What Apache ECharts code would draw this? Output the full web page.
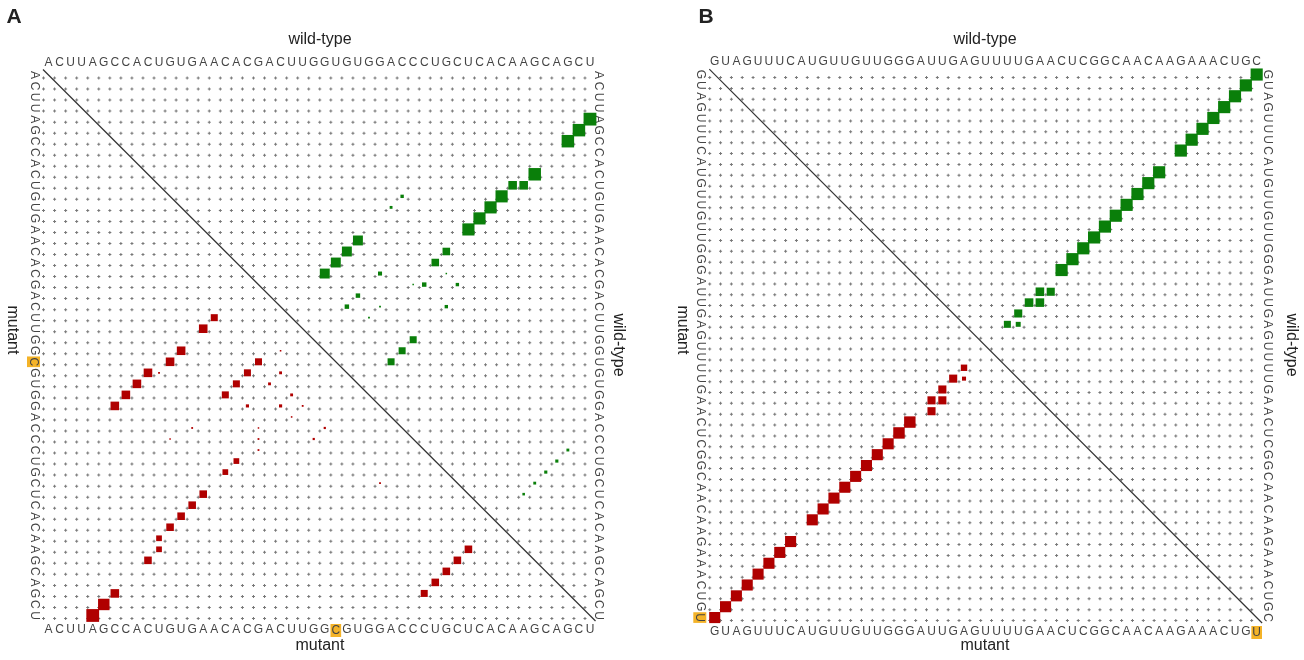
<!DOCTYPE html>
<html>
<head>
<meta charset="utf-8">
<script src="https://cdn.jsdelivr.net/npm/echarts@6/dist/echarts.min.js"></script>
<style>
  html, body { margin: 0; padding: 0; background: #fff; }
  #chart { width: 1304px; height: 660px; }
</style>
</head>
<body>
<div id="chart"></div>
<script>
// sequences (wild-type / mutant) and mutated position, 1-based
const seqAWild = 'ACUUAGCCACUGUGAACACGACUUGGUGUGGACCCUGCUCACAAGCAGCU'.split('')
const seqAMut = 'ACUUAGCCACUGUGAACACGACUUGGCGUGGACCCUGCUCACAAGCAGCU'.split('')
const mutPosA = 27
const seqBWild = 'GUAGUUUCAUGUUGUUGGGAUUGAGUUUUGAACUCGGCAACAAGAAACUGC'.split('')
const seqBMut = 'GUAGUUUCAUGUUGUUGGGAUUGAGUUUUGAACUCGGCAACAAGAAACUGU'.split('')
const mutPosB = 51

// base pair probabilities [i, j, p]
const pairsAWild = [
  [5, 50, 1.0], [6, 49, 0.95], [7, 48, 0.95], [10, 45, 0.95], [11, 44, 0.45], [11, 43, 0.45],
  [12, 42, 0.9], [13, 41, 0.9], [14, 40, 0.9], [15, 39, 0.9],
  [16, 29, 0.6], [17, 28, 0.6], [18, 27, 0.6], [19, 26, 0.6],
  [17, 37, 0.35], [18, 36, 0.35],
  [12, 33, 0.07], [13, 32, 0.05], [19, 31, 0.1], [21, 29, 0.12], [22, 28, 0.12],
  [20, 35, 0.12], [20, 38, 0.07], [22, 37, 0.07],
  [25, 34, 0.3], [26, 33, 0.3], [27, 32, 0.3],
  [19, 37, 0.01], [20, 34, 0.01], [22, 31, 0.02], [23, 30, 0.02],
  [35, 48, 0.05], [36, 47, 0.06], [37, 46, 0.06], [38, 45, 0.05], [39, 44, 0.04]
]
const pairsAMut = [
  [16, 23, 0.3], [15, 24, 0.45], [13, 26, 0.45], [12, 27, 0.45], [10, 28, 0.45], [11, 28, 0.02],
  [9, 29, 0.45], [8, 30, 0.45], [7, 31, 0.45],
  [20, 27, 0.3], [19, 28, 0.3], [18, 29, 0.3], [17, 30, 0.3],
  [22, 26, 0.015], [22, 28, 0.05], [21, 29, 0.05], [23, 30, 0.05], [22, 31, 0.06], [19, 31, 0.06],
  [24, 31, 0.02], [23, 32, 0.015], [26, 33, 0.03], [25, 34, 0.03],
  [14, 33, 0.02], [12, 34, 0.01], [20, 33, 0.01], [20, 34, 0.02], [20, 35, 0.02],
  [18, 36, 0.2], [17, 37, 0.2], [31, 38, 0.02],
  [15, 39, 0.35], [14, 40, 0.35], [13, 41, 0.35], [12, 42, 0.35], [11, 43, 0.2], [11, 44, 0.2], [10, 45, 0.35],
  [7, 48, 0.45], [6, 49, 0.8], [5, 50, 1.0],
  [39, 44, 0.35], [38, 45, 0.35], [37, 46, 0.35], [36, 47, 0.35], [35, 48, 0.3]
]
const pairsBWild = [
  [1, 51, 0.9], [2, 50, 0.9], [3, 49, 0.9], [4, 48, 0.9], [5, 47, 0.9], [6, 46, 0.9], [7, 45, 0.9], [8, 44, 0.9],
  [10, 42, 0.9], [11, 41, 0.9], [12, 40, 0.9], [13, 39, 0.9], [14, 38, 0.9], [15, 37, 0.9],
  [16, 36, 0.9], [17, 35, 0.9], [18, 34, 0.9], [19, 33, 0.9],
  [21, 31, 0.45], [21, 32, 0.4], [22, 30, 0.45], [22, 31, 0.45], [23, 29, 0.4], [24, 28, 0.3], [24, 29, 0.15]
]
const pairsBMut = [
  [1, 51, 0.75], [2, 50, 0.75], [3, 49, 0.75], [4, 48, 0.75], [5, 47, 0.75], [6, 46, 0.75], [7, 45, 0.75], [8, 44, 0.75],
  [10, 42, 0.75], [11, 41, 0.75], [12, 40, 0.75], [13, 39, 0.75], [14, 38, 0.75], [15, 37, 0.75],
  [16, 36, 0.75], [17, 35, 0.75], [18, 34, 0.8], [19, 33, 0.8],
  [21, 32, 0.4], [21, 31, 0.4], [22, 31, 0.4], [22, 30, 0.4], [23, 29, 0.4], [24, 29, 0.1], [24, 28, 0.25]
]

const GREEN = '#0a7f0a'
const RED = '#b00000'
const FONT = 'Liberation Sans, Arial, sans-serif'

const grids = [
  { left: 43, top: 69.5, width: 552.5, height: 551.5 },
  { left: 709.3, top: 69.1, width: 552.8, height: 553.9 }
]

function seqAxis (gridIndex, position, seq, mutPos, isY, margin) {
  return {
    type: 'category',
    gridIndex,
    position,
    inverse: isY,
    data: seq.map((s, k) => String(k + 1)),
    axisLine: { show: false },
    axisTick: { show: false },
    splitLine: { show: false },
    axisLabel: {
      interval: 0,
      margin,
      rotate: isY ? -90 : 0,
      fontSize: 12,
      fontFamily: FONT,
      color: '#444',
      formatter: (v, idx) => (idx + 1 === mutPos ? '{hl|' + seq[idx] + '}' : seq[idx]),
      rich: {
        hl: { backgroundColor: '#f4b328', color: '#444', fontSize: 12, fontFamily: FONT, padding: [1, 1, 0, 1] }
      }
    }
  }
}

function dotData (n) {
  const out = []
  for (let r = 0; r < n; r++) for (let c = 0; c < n; c++) out.push([c, r])
  return out
}

function squareSeries (pairs, upper, axisIdx, color) {
  return {
    type: 'scatter',
    xAxisIndex: axisIdx,
    yAxisIndex: axisIdx,
    symbol: 'rect',
    symbolSize: (val) => Math.max(1.5, 12.8 * Math.sqrt(val[2])),
    itemStyle: { color, opacity: 1 },
    z: 3,
    data: pairs.map(([i, j, p]) => (upper ? [j - 1, i - 1, p] : [i - 1, j - 1, p]))
  }
}

function dotSeries (n, axisIdx) {
  return {
    type: 'scatter',
    xAxisIndex: axisIdx,
    yAxisIndex: axisIdx,
    symbol: 'path://M1,0h1v1h1v1h-1v1h-1v-1h-1v-1h1z',
    symbolSize: 3,
    symbolOffset: [-5, 3],
    itemStyle: { color: '#555' },
    z: 1,
    data: dotData(n)
  }
}

function label (text, x, y, size, rot, weight) {
  return {
    type: 'text',
    x,
    y,
    rotation: rot || 0,
    style: {
      text,
      font: (weight || 'normal') + ' ' + size + 'px ' + FONT,
      fill: '#222',
      align: 'center',
      verticalAlign: 'middle'
    }
  }
}

function diag (g) {
  return {
    type: 'line',
    shape: { x1: g.left, y1: g.top, x2: g.left + g.width, y2: g.top + g.height },
    style: { stroke: '#333', lineWidth: 1.2 },
    z: 2
  }
}

const chart = echarts.init(document.getElementById('chart'))
chart.setOption({
  animation: false,
  backgroundColor: '#fff',
  grid: grids,
  xAxis: [
    seqAxis(0, 'top', seqAWild, 0, false, 1),
    seqAxis(0, 'bottom', seqAMut, mutPosA, false, 3),
    seqAxis(1, 'top', seqBWild, 0, false, 1),
    seqAxis(1, 'bottom', seqBMut, mutPosB, false, 3)
  ],
  yAxis: [
    seqAxis(0, 'left', seqAMut, mutPosA, true, 3),
    seqAxis(0, 'right', seqAWild, 0, true, -3),
    seqAxis(1, 'left', seqBMut, mutPosB, true, 3),
    seqAxis(1, 'right', seqBWild, 0, true, -1)
  ],
  series: [
    dotSeries(seqAWild.length, 0),
    squareSeries(pairsAWild, true, 0, GREEN),
    squareSeries(pairsAMut, false, 0, RED),
    dotSeries(seqBWild.length, 2),
    squareSeries(pairsBWild, true, 2, GREEN),
    squareSeries(pairsBMut, false, 2, RED)
  ],
  graphic: [
    diag(grids[0]),
    diag(grids[1]),
    label('A', 14, 17, 21, 0, 'bold'),
    label('B', 706, 17, 21, 0, 'bold'),
    label('wild-type', 320, 40, 16),
    label('mutant', 320, 646, 16),
    label('mutant', 12, 330, 16, -Math.PI / 2),
    label('wild-type', 618, 345, 16, -Math.PI / 2),
    label('wild-type', 985, 40, 16),
    label('mutant', 985, 646, 16),
    label('mutant', 682, 330, 16, -Math.PI / 2),
    label('wild-type', 1291, 345, 16, -Math.PI / 2)
  ]
})
</script>
</body>
</html>
